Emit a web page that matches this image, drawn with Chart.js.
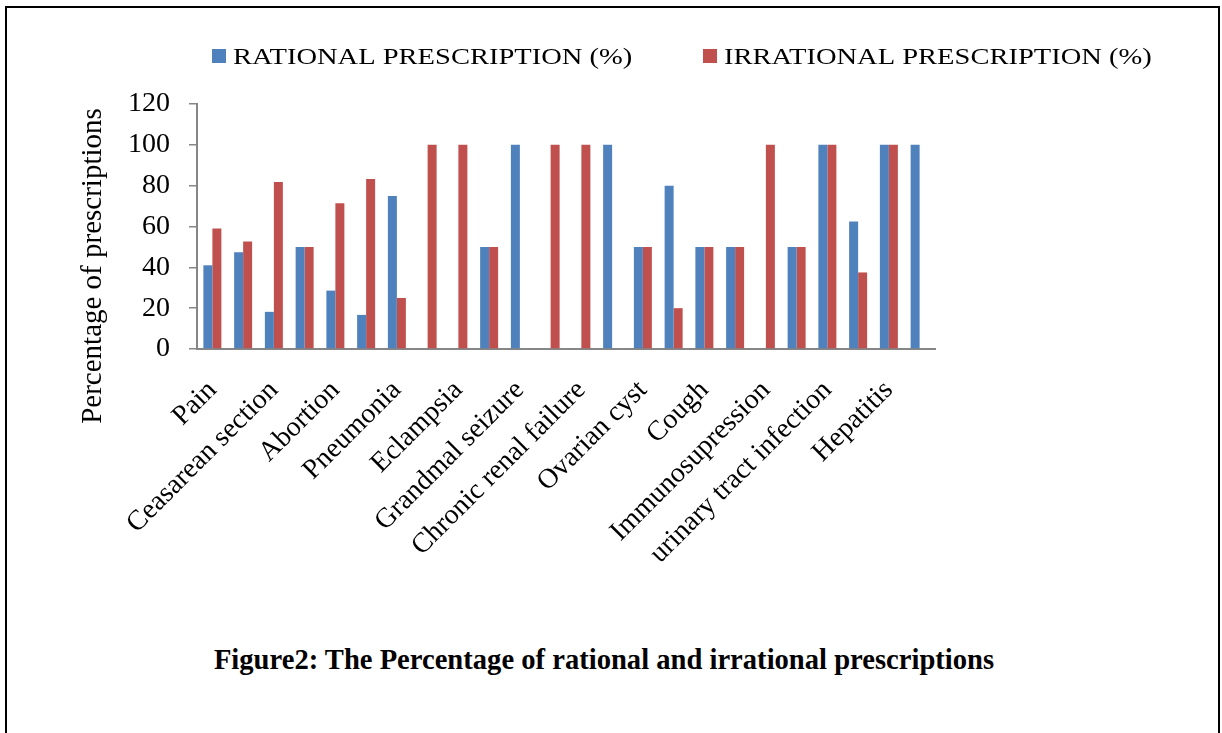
<!DOCTYPE html>
<html>
<head>
<meta charset="utf-8">
<script src="https://cdn.jsdelivr.net/npm/chart.js@4.4.0/dist/chart.umd.min.js"></script>
<style>
  body { margin: 0; background: #fff; width: 1222px; height: 733px; overflow: hidden; position: relative; }
  #frame { position: absolute; left: 5px; top: 6px; width: 1211px; height: 800px; border: 2px solid #000; border-bottom: none; }
  #wrap { position: absolute; left: 0; top: 0; width: 1222px; height: 620px; }
  #caption { position: absolute; left: -7px; width: 1222px; top: 644px; text-align: center;
             font: bold 28.6px "Liberation Serif", "Times New Roman", serif; color: #000; }
</style>
</head>
<body>
<div id="frame"></div>
<div id="wrap"><canvas id="prescription-chart"></canvas></div>
<div id="caption">Figure2: The Percentage of rational and irrational prescriptions</div>

<script>
// only every other category name is printed on the axis
const categories = ['Pain', '', 'Ceasarean section', '', 'Abortion', '', 'Pneumonia', '', 'Eclampsia', '',
    'Grandmal seizure', '', 'Chronic renal failure', '', 'Ovarian cyst', '', 'Cough', '',
    'Immunosupression', '', 'urinary tract infection', '', 'Hepatitis', ''];
const rational = [41, 47.4, 18.2, 50, 28.6, 16.7, 75, 0, 0, 50, 100, 0, 0, 100, 50, 80, 50, 50, 0, 50, 100, 62.5, 100, 100];
const irrational = [59, 52.6, 81.8, 50, 71.4, 83.3, 25, 100, 100, 50, 0, 100, 100, 0, 50, 20, 50, 50, 100, 50, 100, 37.5, 100, 0];
const seriesNames = ['RATIONAL PRESCRIPTION (%)', 'IRRATIONAL PRESCRIPTION (%)'];
const yTitle = 'Percentage of prescriptions';

const blue = '#4F81BD';
const red = '#C0504D';
const serif = '"Liberation Serif", "Times New Roman", serif';

// excel style legend (wide lettering) and y title placed like the original
const excelDecor = {
    id: 'excelDecor',
    afterDraw(chart) {
        let ctx = chart.ctx;
        let items = [
            {x: 212, color: blue, text: seriesNames[0]},
            {x: 703, color: red, text: seriesNames[1]}
        ];
        ctx.save();
        ctx.font = '23px ' + serif;
        ctx.textBaseline = 'alphabetic';
        items.forEach(function (item) {
            ctx.fillStyle = item.color;
            ctx.fillRect(item.x, 49, 14, 14);
            ctx.save();
            ctx.translate(item.x + 21, 64);
            ctx.scale(1.24, 1);
            ctx.fillStyle = '#000';
            ctx.fillText(item.text, 0, 0);
            ctx.restore();
        });

        ctx.translate(93, 266);
        ctx.rotate(-Math.PI / 2);
        ctx.font = '29px ' + serif;
        ctx.textAlign = 'center';
        ctx.textBaseline = 'middle';
        ctx.fillStyle = '#000';
        ctx.fillText(yTitle, 0, 0);
        ctx.restore();
    }
};

let ctx1 = document.getElementById('prescription-chart').getContext('2d');
let chart = new Chart(ctx1, {
    type: 'bar',
    data: {
        labels: categories,
        datasets: [
            {label: seriesNames[0], data: rational, backgroundColor: blue},
            {label: seriesNames[1], data: irrational, backgroundColor: red}
        ]
    },
    options: {
        responsive: true,
        maintainAspectRatio: false,
        animation: false,
        barPercentage: 1,
        categoryPercentage: 0.585,
        layout: {
            padding: {top: 104, right: 287, left: 0, bottom: 0}
        },
        plugins: {
            legend: {display: false},
            tooltip: {enabled: false}
        },
        scales: {
            x: {
                grid: {display: true, drawOnChartArea: false, drawTicks: false},
                border: {display: true, color: '#868686', width: 2},
                ticks: {
                    autoSkip: false,
                    maxRotation: 45,
                    minRotation: 45,
                    padding: 25,
                    color: '#000',
                    font: {family: serif, size: 28}
                },
                afterFit: function (scale) { scale.height = 271; }
            },
            y: {
                min: 0,
                max: 120,
                ticks: {
                    stepSize: 20,
                    padding: 19,
                    color: '#000',
                    font: {family: serif, size: 28}
                },
                grid: {display: true, drawOnChartArea: false, drawTicks: true, tickLength: 8, color: '#868686', lineWidth: 1.5},
                border: {display: true, color: '#868686', width: 2},
                afterFit: function (scale) { scale.width = 197; }
            }
        }
    },
    plugins: [excelDecor]
});
</script>
</body>
</html>
